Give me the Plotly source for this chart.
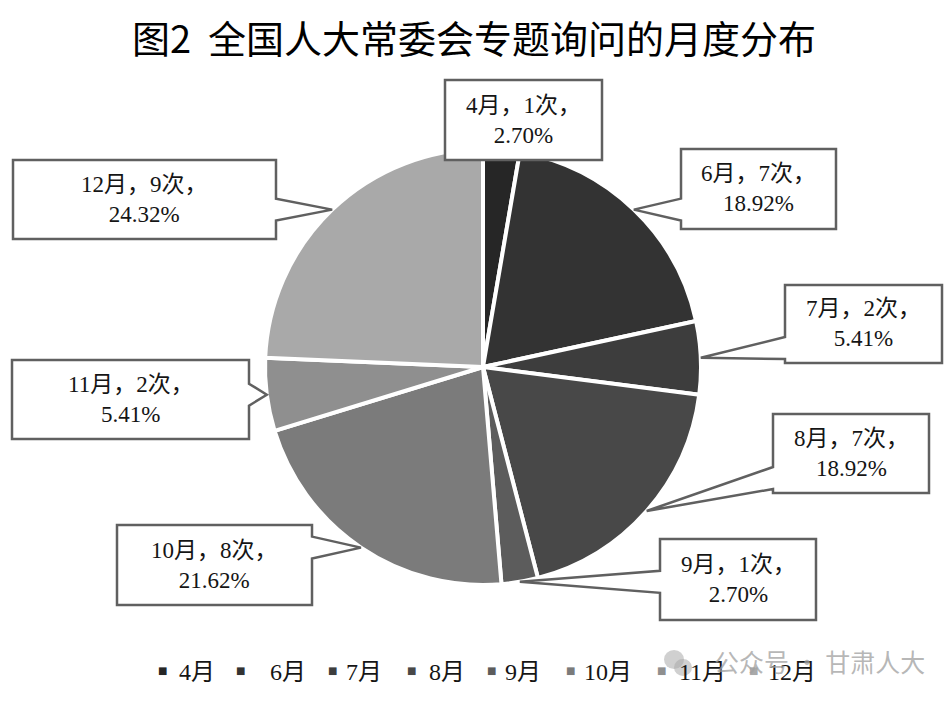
import math
import plotly.graph_objects as go

# Monthly count of special inquiries
months = ["4月", "6月", "7月", "8月", "9月", "10月", "11月", "12月"]
counts = [1, 7, 2, 7, 1, 8, 2, 9]
pct_labels = ["2.70%", "18.92%", "5.41%", "18.92%", "2.70%", "21.62%", "5.41%", "24.32%"]
colors = ["#262626", "#333333", "#3d3d3d", "#484848", "#5c5c5c", "#7b7b7b", "#8f8f8f", "#a9a9a9"]

W, H = 951, 703
CX, CY, R = 483, 367, 218          # pie centre and radius in pixels

# callout boxes: (left, top, right, bottom) in pixels
boxes = [(445, 80, 602, 160), (681, 149, 836, 229), (785, 285, 942, 363),
         (773, 414, 929, 493), (660, 539, 816, 620), (117, 525, 312, 605),
         (12, 360, 249, 439), (13, 160, 276, 239)]

# legend entries: marker x and label x in pixels
legend_marker_x = [162, 241, 332, 411, 491, 570, 661, 753]
legend_label_x = [177, 268, 344, 427, 503, 582, 677, 766]
LEGEND_Y = 672


def px(x):
    return x / W


def py(y):
    return 1 - y / H


fig = go.Figure()
fig.add_trace(go.Pie(
    labels=months, values=counts, sort=False, direction="clockwise", rotation=0,
    marker=dict(colors=colors, line=dict(color="white", width=4)),
    textinfo="none", hoverinfo="label+value+percent", showlegend=False,
    domain=dict(x=[px(CX - R), px(CX + R)], y=[py(CY + R), py(CY - R)]),
))


def callout_path(box, tip, hw=11, inset=4):
    x0, y0, x1, y1 = box
    tx, ty = tip
    side = None
    if tx < x0:
        side = "left"
    elif tx > x1:
        side = "right"
    elif ty > y1:
        side = "bottom"
    elif ty < y0:
        side = "top"

    def clamp(v, lo, hi):
        return max(lo + hw + inset, min(hi - hw - inset, v))

    pts = [(x0, y0)]
    if side == "top":
        c = clamp(tx, x0, x1)
        pts += [(c - hw, y0), (tx, ty), (c + hw, y0)]
    pts.append((x1, y0))
    if side == "right":
        c = clamp(ty, y0, y1)
        pts += [(x1, c - hw), (tx, ty), (x1, c + hw)]
    pts.append((x1, y1))
    if side == "bottom":
        c = clamp(tx, x0, x1)
        pts += [(c + hw, y1), (tx, ty), (c - hw, y1)]
    pts.append((x0, y1))
    if side == "left":
        c = clamp(ty, y0, y1)
        pts += [(x0, c + hw), (tx, ty), (x0, c - hw)]
    return "M " + " L ".join(f"{px(a):.5f},{py(b):.5f}" for a, b in pts) + " Z"


total = sum(counts)
cum = 0
shapes = []
annotations = []
for m, c, p, box in zip(months, counts, pct_labels, boxes):
    mid = (cum + c / 2) / total * 2 * math.pi
    cum += c
    tip = (CX + R * math.sin(mid), CY - R * math.cos(mid))
    shapes.append(dict(type="path", xref="paper", yref="paper", layer="above",
                       path=callout_path(box, tip),
                       fillcolor="white", line=dict(color="#606060", width=2.5)))
    bx = (box[0] + box[2]) / 2
    by = (box[1] + box[3]) / 2
    annotations.append(dict(
        x=px(bx), y=py(by), xref="paper", yref="paper",
        xanchor="center", yanchor="middle", showarrow=False,
        text=f"{m}，{c}次，<br>{p}",
        font=dict(family="Liberation Serif, Noto Sans CJK SC", size=23, color="#151515"),
        align="center",
    ))

# title
annotations.append(dict(
    x=px(474), y=py(37), xref="paper", yref="paper", xanchor="center", yanchor="middle",
    showarrow=False, text="图2  全国人大常委会专题询问的月度分布",
    font=dict(family="Noto Sans CJK SC", size=38, color="#000000"),
))

# legend
for m, col, mx, lx in zip(months, colors, legend_marker_x, legend_label_x):
    annotations.append(dict(
        x=px(mx), y=py(LEGEND_Y - 2), xref="paper", yref="paper", xanchor="center",
        yanchor="middle", showarrow=False, text="■",
        font=dict(family="DejaVu Sans", size=10, color=col),
    ))
    annotations.append(dict(
        x=px(lx), y=py(LEGEND_Y), xref="paper", yref="paper", xanchor="left",
        yanchor="middle", showarrow=False, text=m,
        font=dict(family="Liberation Serif, Noto Sans CJK SC", size=24, color="#151515"),
    ))

# account mark
shapes.append(dict(type="circle", xref="paper", yref="paper", layer="above",
                   x0=px(664), x1=px(684), y0=py(669), y1=py(650),
                   fillcolor="rgba(170,170,170,0.55)", line=dict(width=0)))
shapes.append(dict(type="circle", xref="paper", yref="paper", layer="above",
                   x0=px(674), x1=px(692), y0=py(676), y1=py(659),
                   fillcolor="rgba(170,170,170,0.55)", line=dict(width=0)))
annotations.append(dict(
    x=px(712), y=py(661), xref="paper", yref="paper", xanchor="left", yanchor="middle",
    showarrow=False, text="公众号 · 甘肃人大",
    font=dict(family="Noto Sans CJK SC", size=25, color="rgba(160,160,160,0.75)"),
))

fig.update_layout(
    width=W, height=H, margin=dict(l=0, r=0, t=0, b=0),
    paper_bgcolor="white", plot_bgcolor="white",
    shapes=shapes, annotations=annotations, showlegend=False,
)

fig.write_html("out.html")
